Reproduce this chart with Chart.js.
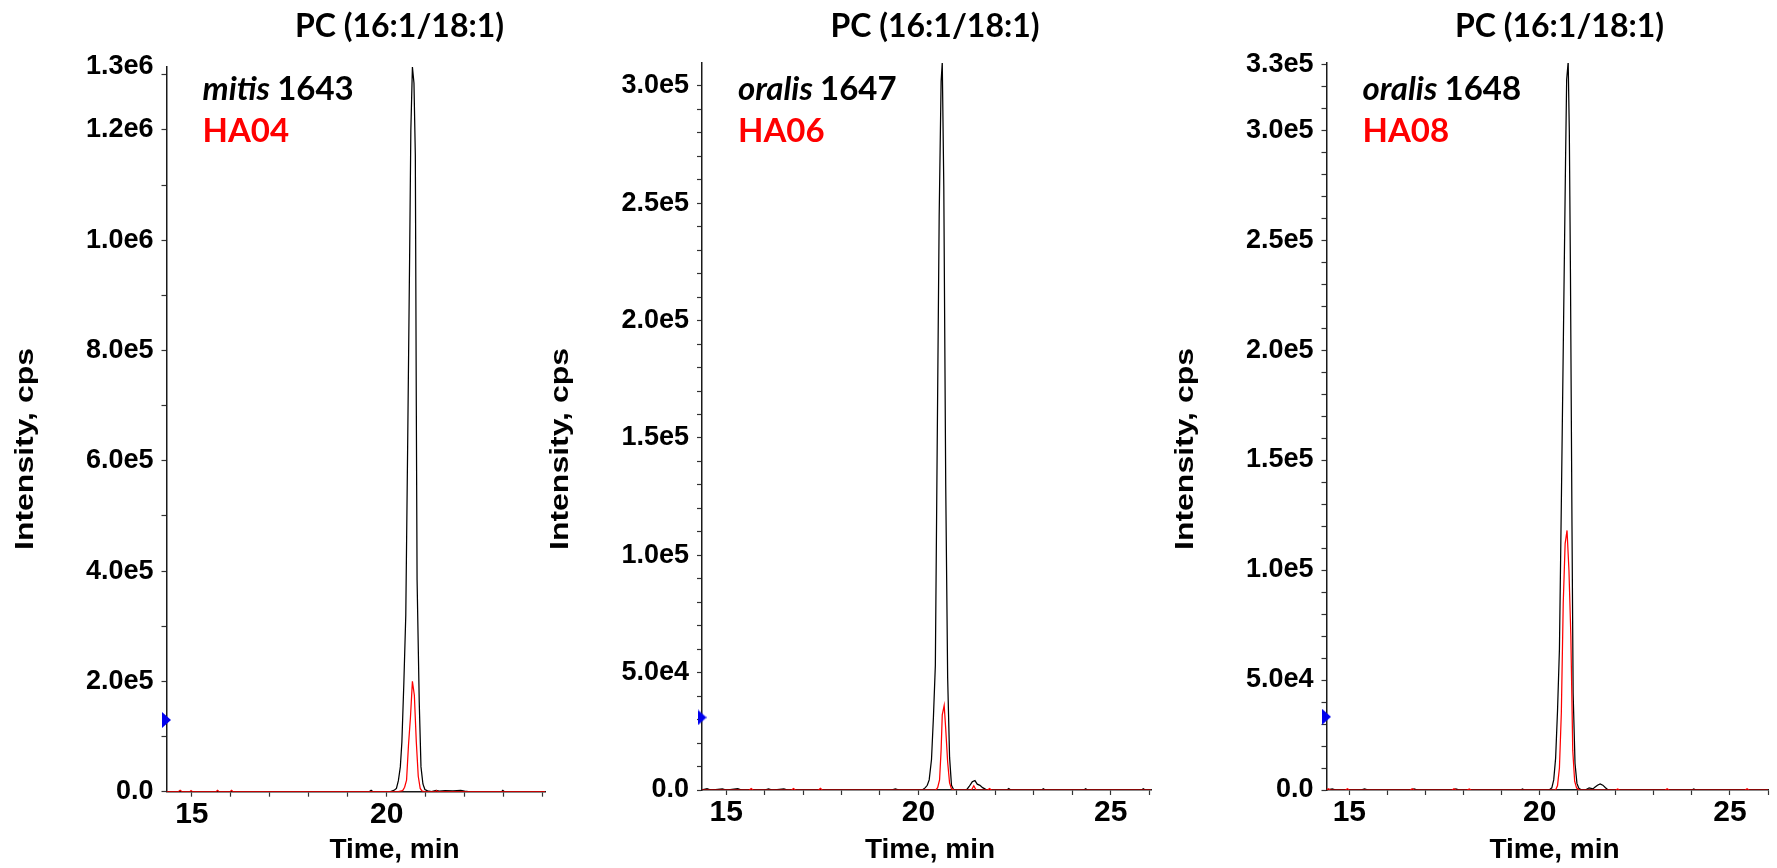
<!DOCTYPE html>
<html>
<head>
<meta charset="utf-8">
<script src="https://cdn.jsdelivr.net/npm/chart.js@4.4.1/dist/chart.umd.min.js"></script>
<style>
  html, body { margin: 0; padding: 0; background: #ffffff; width: 1777px; height: 868px; overflow: hidden; }
  canvas.panel { position: absolute; top: 0; }
</style>
</head>
<body>
<script>
// ---------------- DATA ----------------
const chartTitle = 'PC (16:1/18:1)';
const speciesNames = ['mitis', 'oralis', 'oralis'];
const isolateIds = ['1643', '1647', '1648'];
const strainLabels = ['HA04', 'HA06', 'HA08'];
const xAxisTitle = 'Time, min';
const yAxisTitle = 'Intensity, cps';

const xTickValues = [15, 20, 25];
const xTickLabels = ['15', '20', '25'];
const xMinorStep = 1;
const xMin = [14.35, 14.37, 14.40];
const xMax = [24.07, 26.05, 26.0];

const p1YTicks = [0, 2e5, 4e5, 6e5, 8e5, 1.0e6, 1.2e6, 1.314e6];
const p1YLabels = ['0.0', '2.0e5', '4.0e5', '6.0e5', '8.0e5', '1.0e6', '1.2e6', '1.3e6'];
const p2YTicks = [0, 5e4, 1e5, 1.5e5, 2e5, 2.5e5, 3e5];
const p2YLabels = ['0.0', '5.0e4', '1.0e5', '1.5e5', '2.0e5', '2.5e5', '3.0e5'];
const p3YTicks = [0, 5e4, 1e5, 1.5e5, 2e5, 2.5e5, 3e5, 3.3e5];
const p3YLabels = ['0.0', '5.0e4', '1.0e5', '1.5e5', '2.0e5', '2.5e5', '3.0e5', '3.3e5'];
const yMax = [1.314e6, 3.098e5, 3.305e5];
const yMinorStep = [1e5, 1e4, 1e4];

// threshold marker level (blue arrow on the y axis)
const markerLevel = [1.3e5, 3.09e4, 3.33e4];

// Panel 1 : mitis 1643 (black) / HA04 (red)
const p1BlackTime = [14.35, 19.55, 19.60, 19.65, 20.10, 20.20, 20.25, 20.30, 20.35, 20.39, 20.44, 20.49, 20.54, 20.59, 20.62, 20.66, 20.70, 20.735, 20.76, 20.78, 20.835, 20.88, 20.93, 20.98, 21.05, 21.15, 21.27, 21.35, 21.50, 21.70, 21.90, 22.00, 22.10, 22.95, 22.98, 23.02, 24.07];
const p1Black     = [0, 0, 2500, 0, 0, 3000, 6000, 20000, 45000, 90000, 196000, 320000, 640000, 980000, 1200000, 1314000, 1285000, 1154000, 700000, 384000, 163000, 45000, 14000, 4000, 1500, 0, 2500, 1000, 2000, 1500, 2500, 1000, 0, 0, 2500, 0, 0];
const p1RedTime = [14.35, 14.65, 14.70, 14.75, 14.95, 14.98, 15.02, 15.62, 15.66, 15.70, 15.98, 16.02, 16.06, 20.30, 20.41, 20.46, 20.51, 20.56, 20.61, 20.66, 20.71, 20.76, 20.81, 20.86, 20.91, 20.96, 21.25, 21.28, 21.31, 24.07];
const p1Red     = [0, 0, 2500, 0, 0, 2000, 0, 0, 2500, 0, 0, 2500, 0, 0, 2000, 8000, 21000, 85000, 135000, 200000, 175000, 90000, 28000, 6000, 1000, 0, 0, 2000, 0, 0];

// Panel 2 : oralis 1647 (black) / HA06 (red)
const p2BlackTime = [14.37, 14.50, 14.60, 14.90, 15.00, 15.30, 15.40, 16.00, 16.10, 16.20, 16.50, 16.60, 19.30, 19.40, 19.50, 20.10, 20.18, 20.23, 20.28, 20.34, 20.39, 20.44, 20.49, 20.54, 20.59, 20.62, 20.66, 20.71, 20.76, 20.81, 20.86, 20.91, 21.00, 21.25, 21.32, 21.40, 21.47, 21.53, 21.60, 21.67, 21.75, 21.85, 22.30, 22.35, 22.40, 23.20, 23.25, 23.30, 24.30, 24.35, 24.40, 25.80, 25.85, 25.90, 26.05];
const p2Black     = [0, 600, 0, 500, 0, 600, 0, 0, 500, 0, 500, 0, 0, 500, 0, 0, 1000, 2000, 4300, 13000, 31000, 53000, 150000, 245000, 302000, 310000, 257000, 130000, 48000, 14000, 2000, 300, 0, 0, 1500, 3500, 4000, 2500, 2000, 1000, 300, 0, 0, 600, 0, 0, 500, 0, 0, 500, 0, 0, 500, 0, 0];
const p2RedTime = [14.37, 15.60, 15.65, 15.70, 16.70, 16.75, 16.80, 17.40, 17.45, 17.50, 20.45, 20.50, 20.55, 20.59, 20.62, 20.67, 20.71, 20.76, 20.81, 20.86, 20.92, 21.38, 21.44, 21.50, 21.80, 21.85, 21.90, 26.05];
const p2Red     = [0, 0, 600, 0, 0, 600, 0, 0, 700, 0, 0, 1000, 4300, 17000, 32000, 36000, 26000, 12000, 3000, 500, 0, 0, 1800, 0, 0, 600, 0, 0];

// Panel 3 : oralis 1648 (black) / HA08 (red)
const p3BlackTime = [14.40, 14.55, 14.65, 15.30, 15.40, 15.50, 16.60, 16.70, 16.80, 17.70, 17.80, 17.90, 19.50, 19.55, 19.60, 20.25, 20.32, 20.37, 20.42, 20.47, 20.52, 20.57, 20.62, 20.68, 20.71, 20.75, 20.78, 20.81, 20.85, 20.88, 20.93, 20.98, 21.03, 21.10, 21.20, 21.30, 21.40, 21.45, 21.52, 21.59, 21.66, 21.73, 21.80, 24.00, 24.05, 24.10, 26.00];
const p3Black     = [0, 500, 0, 0, 500, 0, 0, 500, 0, 0, 500, 0, 0, 500, 0, 0, 1000, 4600, 14500, 36000, 64000, 130000, 200000, 285000, 323000, 331000, 299000, 234000, 120000, 44000, 12000, 3000, 800, 0, 0, 1000, 500, 1200, 2200, 2800, 2200, 1000, 0, 0, 500, 0, 0];
const p3RedTime = [14.40, 14.45, 14.50, 14.90, 14.95, 15.00, 16.60, 16.65, 16.70, 17.70, 17.75, 17.80, 18.10, 18.15, 18.20, 20.42, 20.47, 20.52, 20.57, 20.62, 20.67, 20.72, 20.77, 20.82, 20.87, 20.92, 20.97, 21.03, 22.00, 22.05, 22.10, 23.30, 23.35, 23.40, 25.40, 25.45, 25.50, 26.00];
const p3Red     = [0, 600, 0, 0, 600, 0, 0, 600, 0, 0, 600, 0, 0, 500, 0, 0, 2000, 10000, 35000, 85000, 112000, 118000, 100000, 70000, 18000, 4000, 1000, 0, 0, 500, 0, 0, 600, 0, 0, 600, 0, 0];

// ---------------- LAYOUT / STYLE ----------------
const layoutSpec = [
  { canvasLeft: 0,    width: 560, axisW: 166.5, padRight: 14.7, padTop: 67, axisH: 76.3 },
  { canvasLeft: 500,  width: 660, axisW: 202,   padRight: 4,    padTop: 63, axisH: 78 },
  { canvasLeft: 1120, width: 657, axisW: 206.5, padRight: 0,    padTop: 63, axisH: 78 }
];
const PAGE_H = 868;

const panelText = {
  id: 'panelText',
  afterDraw(chart, args, o) {
    const { ctx, chartArea: a } = chart;
    ctx.save();
    ctx.textBaseline = 'alphabetic';
    ctx.fillStyle = '#000';
    // panel title
    ctx.textAlign = 'center';
    ctx.font = 'bold 32px Lato';
    ctx.fillText(o.title, a.left + 233, 37);
    // sample name: italic species + id
    ctx.textAlign = 'left';
    ctx.font = 'italic bold 33px Lato';
    ctx.fillText(o.species, a.left + 36, 100);
    const sw = ctx.measureText(o.species + ' ').width;
    ctx.font = 'bold 33px Lato';
    ctx.fillText(o.isolate, a.left + 36 + sw, 100);
    // strain (red)
    ctx.fillStyle = '#ff0000';
    ctx.fillText(o.strain, a.left + 36, 142);
    // x axis title
    ctx.fillStyle = '#000';
    ctx.textAlign = 'center';
    ctx.font = 'bold 28px "Liberation Sans"';
    ctx.fillText(o.xTitle, a.left + 228, 858);
    // y axis title (rotated, stretched along its length)
    ctx.font = 'bold 25px "Liberation Sans"';
    const yw = ctx.measureText(o.yTitle).width;
    ctx.translate(a.left - 134, 449);
    ctx.rotate(-Math.PI / 2);
    ctx.scale(202 / yw, 1);
    ctx.fillText(o.yTitle, 0, 0);
    ctx.restore();
  }
};

function markerImage() {
  const c = document.createElement('canvas');
  c.width = 9; c.height = 16;
  const m = c.getContext('2d');
  m.fillStyle = '#0000ee';
  m.beginPath(); m.moveTo(0, 0); m.lineTo(9, 8); m.lineTo(0, 16); m.closePath(); m.fill();
  return c;
}
const marker = markerImage();

function xy(times, vals) { return times.map((t, i) => ({ x: t, y: vals[i] })); }

function stepTicks(min, max, step) {
  const out = [];
  for (let k = Math.ceil(min / step - 1e-9); k * step <= max + 1e-9; k++) out.push(+(k * step).toFixed(6));
  return out;
}

function labelFor(value, vals, labels, tol) {
  for (let i = 0; i < vals.length; i++) if (Math.abs(vals[i] - value) < tol) return labels[i];
  return '';
}

const panels = [
  { black: xy(p1BlackTime, p1Black), red: xy(p1RedTime, p1Red), yTicks: p1YTicks, yLabels: p1YLabels },
  { black: xy(p2BlackTime, p2Black), red: xy(p2RedTime, p2Red), yTicks: p2YTicks, yLabels: p2YLabels },
  { black: xy(p3BlackTime, p3Black), red: xy(p3RedTime, p3Red), yTicks: p3YTicks, yLabels: p3YLabels }
];

panels.forEach((p, i) => {
  const L = layoutSpec[i];
  const cv = document.createElement('canvas');
  cv.className = 'panel';
  cv.width = L.width; cv.height = PAGE_H;
  cv.style.left = L.canvasLeft + 'px';
  cv.style.width = L.width + 'px'; cv.style.height = PAGE_H + 'px';
  document.body.appendChild(cv);

  const topTick = p.yTicks[p.yTicks.length - 1];
  const yVals = Array.from(new Set(stepTicks(0, yMax[i], yMinorStep[i]).concat(p.yTicks))).sort((a, b) => a - b);
  const xVals = stepTicks(xMin[i], xMax[i], xMinorStep);

  new Chart(cv, {
    type: 'line',
    data: {
      datasets: [
        { label: 'marker', data: [{ x: xMin[i], y: markerLevel[i] }], showLine: false,
          pointStyle: marker, pointRadius: 8, clip: false, order: 0 },
        { label: strainLabels[i], data: p.red, borderColor: '#ff0000', borderWidth: 1.25,
          pointRadius: 0, tension: 0, order: 1 },
        { label: speciesNames[i] + ' ' + isolateIds[i], data: p.black, borderColor: '#000000', borderWidth: 1.25,
          pointRadius: 0, tension: 0, order: 2 }
      ]
    },
    options: {
      responsive: false,
      animation: false,
      devicePixelRatio: 1,
      layout: { padding: { left: 0, right: L.padRight, top: L.padTop, bottom: 0 } },
      plugins: {
        legend: { display: false },
        tooltip: { enabled: false },
        title: { display: false },
        panelText: { title: chartTitle, species: speciesNames[i], isolate: isolateIds[i],
          strain: strainLabels[i], xTitle: xAxisTitle, yTitle: yAxisTitle }
      },
      scales: {
        x: {
          type: 'linear', min: xMin[i], max: xMax[i],
          afterBuildTicks: (s) => { s.ticks = xVals.map(v => ({ value: v })); },
          afterFit: (s) => { s.height = L.axisH; },
          ticks: {
            autoSkip: false, maxRotation: 0, minRotation: 0, padding: 0, color: '#000',
            font: { family: '"Liberation Sans"', weight: 'bold', size: 30 },
            callback: (v) => labelFor(v, xTickValues, xTickLabels, 1e-6)
          },
          grid: { display: true, drawOnChartArea: false, drawTicks: true, tickLength: 5, tickColor: '#333', tickWidth: 1.2 },
          border: { display: true, color: '#1a1a1a', width: 1.5 }
        },
        y: {
          type: 'linear', min: 0, max: yMax[i],
          afterBuildTicks: (s) => { s.ticks = yVals.map(v => ({ value: v })); },
          afterFit: (s) => { s.width = L.axisW; },
          ticks: {
            autoSkip: false, padding: 8, color: '#000',
            font: { family: '"Liberation Sans"', weight: 'bold', size: 27 },
            callback: (v) => labelFor(v, p.yTicks, p.yLabels, 1)
          },
          grid: {
            display: true, drawOnChartArea: false, drawTicks: true, tickLength: 5, tickWidth: 1.2,
            tickColor: (c) => (c.tick && Math.abs(c.tick.value - yMax[i]) < 1 && Math.abs(topTick - yMax[i]) < 1) ? 'rgba(0,0,0,0)' : '#333'
          },
          border: { display: true, color: '#1a1a1a', width: 1.5 }
        }
      }
    },
    plugins: [panelText]
  });
});
</script>
</body>
</html>
